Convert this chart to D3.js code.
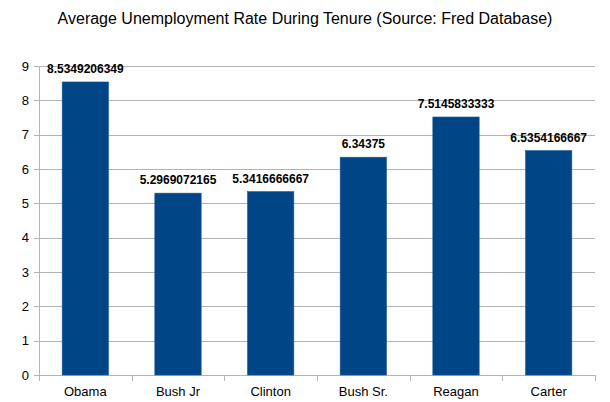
<!DOCTYPE html>
<html><head><meta charset="utf-8">
<script src="https://cdn.jsdelivr.net/npm/d3@7"></script>
<style>body{margin:0;background:#fff}svg{display:block;font-family:"Liberation Sans",Arial,sans-serif}</style>
</head><body>
<svg id="c" width="610" height="402"></svg>
<script>
const title = "Average Unemployment Rate During Tenure (Source: Fred Database)";
const categories = ["Obama","Bush Jr","Clinton","Bush Sr.","Reagan","Carter"];
const values = [8.5349206349,5.2969072165,5.3416666667,6.34375,7.5145833333,6.5354166667];
const valueLabels = ["8.5349206349","5.2969072165","5.3416666667","6.34375","7.5145833333","6.5354166667"];
const yTicks = [0,1,2,3,4,5,6,7,8,9];

const svg = d3.select("#c");
const L=39,R=595,T=66,B=375;
const x = d3.scaleBand().domain(categories).range([L,R]).paddingInner(0.5).paddingOuter(0.25);
const y = d3.scaleLinear().domain([0,9]).range([B,T]);
const grid="#b3b3b3";

svg.append("text").attr("x",305).attr("y",24).attr("text-anchor","middle")
  .attr("font-size",16).attr("fill","#000").text(title);

svg.append("g").selectAll("line").data(yTicks).join("line")
  .attr("x1",L-5).attr("x2",R).attr("y1",d=>Math.round(y(d))+0.5).attr("y2",d=>Math.round(y(d))+0.5)
  .attr("stroke",grid).attr("stroke-width",1);
svg.append("g").selectAll("text").data(yTicks).join("text")
  .attr("x",L-10).attr("y",d=>y(d)+4.5).attr("text-anchor","end").attr("font-size",13).text(d=>d);
svg.append("line").attr("x1",L+0.5).attr("x2",L+0.5).attr("y1",T).attr("y2",B+6).attr("stroke",grid);
const step=(R-L)/categories.length;
svg.append("g").selectAll("line").data(d3.range(categories.length+1)).join("line")
  .attr("x1",i=>Math.round(L+i*step)+0.5).attr("x2",i=>Math.round(L+i*step)+0.5)
  .attr("y1",B).attr("y2",B+6).attr("stroke",grid);

svg.append("g").selectAll("rect").data(values).join("rect")
  .attr("x",(d,i)=>x(categories[i])).attr("width",x.bandwidth())
  .attr("y",d=>y(d)).attr("height",d=>B-y(d))
  .attr("fill","#004586").attr("stroke","#1a5a96").attr("stroke-width",0.6);

svg.append("g").selectAll("text").data(values).join("text")
  .attr("x",(d,i)=>x(categories[i])+x.bandwidth()/2).attr("y",d=>y(d)-9)
  .attr("text-anchor","middle").attr("font-size",12).attr("font-weight","bold")
  .text((d,i)=>valueLabels[i]);

svg.append("g").selectAll("text").data(categories).join("text")
  .attr("x",d=>x(d)+x.bandwidth()/2).attr("y",B+21).attr("text-anchor","middle")
  .attr("font-size",13).text(d=>d);
</script>
</body></html>
